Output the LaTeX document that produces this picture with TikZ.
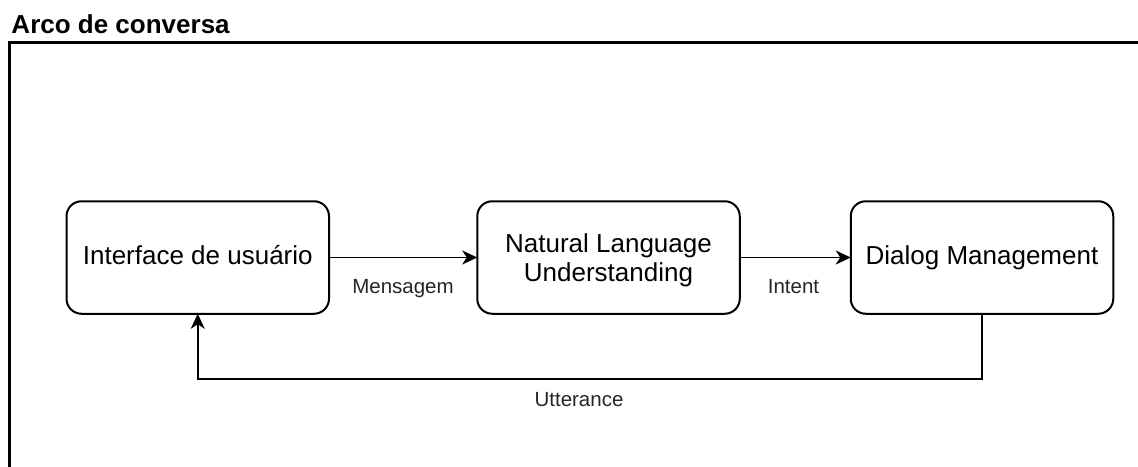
\documentclass[tikz,border=0pt]{standalone}
\usepackage{fontspec}
\setmainfont{Liberation Sans}
\usetikzlibrary{arrows.meta}
\begin{document}
\begin{tikzpicture}[x=1pt,y=-1pt,
  every node/.style={inner sep=0pt, outer sep=0pt},
  block/.style={draw, line width=2pt, rounded corners=15pt,
    minimum width=262.5pt, minimum height=112.5pt, align=center,
    font=\fontsize{26}{29}\selectfont},
  oneline/.style={text height=1.3em, text depth=0em},
  lbl/.style={font=\fontsize{20.5}{24}\selectfont, text=black!85,
    text height=0.905em, text depth=0.212em},
  conn/.style={line width=1.9pt,
    -{Stealth[length=15pt, width=14pt, inset=4.5pt]}}]
  % page and clipping frame
  \useasboundingbox (0,0) rectangle (1138,466);
  \fill[white] (0,0) rectangle (1138,466);
  \clip (0,0) rectangle (1138,466);

  % title and outer frame
  \node[anchor=base west, font=\bfseries\fontsize{26}{30}\selectfont] (title) at (11.5,33) {Arco de conversa};
  \draw[line width=2.1pt] (9.5,42.5) rectangle (1200,520);

  % pipeline stages
  \node[block, oneline]           (ui)  at (197.75,257.5) {Interface de usuário};
  \node[block, text depth=-2.5pt] (nlu) at (608.5,257.5)  {Natural Language\\Understanding};
  \node[block, oneline]           (dm)  at (982,257.5)    {Dialog Management};

  % forward flow
  \draw[conn] (ui) -- (nlu);
  \draw[conn] (nlu) -- (dm);

  % response loop back to the interface
  \coordinate (loop) at (590,379);
  \draw[conn] (dm.south) -- (dm.south |- loop) -| (ui.south);

  % edge labels
  \node[lbl] (lm) at (403,290)   {Mensagem};
  \node[lbl] (li) at (793.5,290) {Intent};
  \node[lbl] (lu) at (579,403)   {Utterance};
\end{tikzpicture}
\end{document}
